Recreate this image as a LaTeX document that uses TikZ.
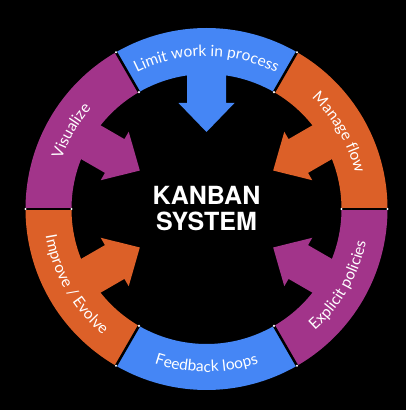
\documentclass[tikz,border=0pt]{standalone}
\usepackage{fontspec}
\newfontfamily\labelfont{Lato}
\newfontfamily\titlefont{TeX Gyre Heros}
\usetikzlibrary{decorations.text}
\definecolor{kblue}{HTML}{4586F5}
\definecolor{korange}{HTML}{DC6028}
\definecolor{kpurple}{HTML}{A2348A}
\newcommand{\lbl}{\labelfont\fontsize{15.5}{15.5}\selectfont\color{white}}
\begin{document}
\begin{tikzpicture}[
    ringlabel/.style={decorate,decoration={text along path,text align=center,text={|\lbl|#1}}},
    sep/.style={black,line width=2.5pt}
  ]
    \fill[black] (0,0) rectangle (406pt,410pt);
    \useasboundingbox (0,0) rectangle (406pt,410pt);
    \coordinate (C) at (206.5pt,201pt);
    \begin{scope}[shift={(C)}]
        % ring segments
        \foreach \a/\col in {0/korange,60/kblue,120/kpurple,180/korange,240/kblue,300/kpurple}
            \fill[\col] (\a:181pt) arc[start angle=\a, end angle=\a+60, radius=181pt]
                -- (\a+60:135pt) arc[start angle=\a+60, end angle=\a, radius=135pt] -- cycle;
        % arrows (none from the bottom one)
        \foreach \a/\col in {30/korange,90/kblue,150/kpurple,210/korange,330/kpurple}
            \fill[\col, rotate=\a] (140pt,19.5pt) -- (106pt,19.5pt) -- (106pt,28pt) -- (77pt,0pt)
                -- (106pt,-28pt) -- (106pt,-19.5pt) -- (140pt,-19.5pt) -- cycle;
        \foreach \a in {0,60,...,300}{
            \draw[sep] (\a:135pt) -- (\a:181pt);
            \fill[white] (\a:135pt) circle[radius=1.2pt];
            \fill[white] (\a:181pt) circle[radius=1.2pt];
        }
        % labels
        \path[ringlabel={Limit work in process}] (118:153pt) arc[start angle=118, end angle=62, radius=153pt];
        \path[ringlabel={Manage flow}] (58:153pt) arc[start angle=58, end angle=2, radius=153pt];
        \path[ringlabel={Visualize}] (178:153pt) arc[start angle=178, end angle=122, radius=153pt];
        \path[ringlabel={Improve / Evolve}] (182:163pt) arc[start angle=182, end angle=238, radius=163pt];
        \path[ringlabel={Feedback loops}] (242:163pt) arc[start angle=242, end angle=298, radius=163pt];
        \path[ringlabel={Explicit policies}] (302:163pt) arc[start angle=302, end angle=358, radius=163pt];
    \end{scope}
    \node[text=white, align=center, font=\titlefont\bfseries\fontsize{25}{26}\selectfont] (title) at (C) {KANBAN\\SYSTEM};
\end{tikzpicture}
\end{document}
